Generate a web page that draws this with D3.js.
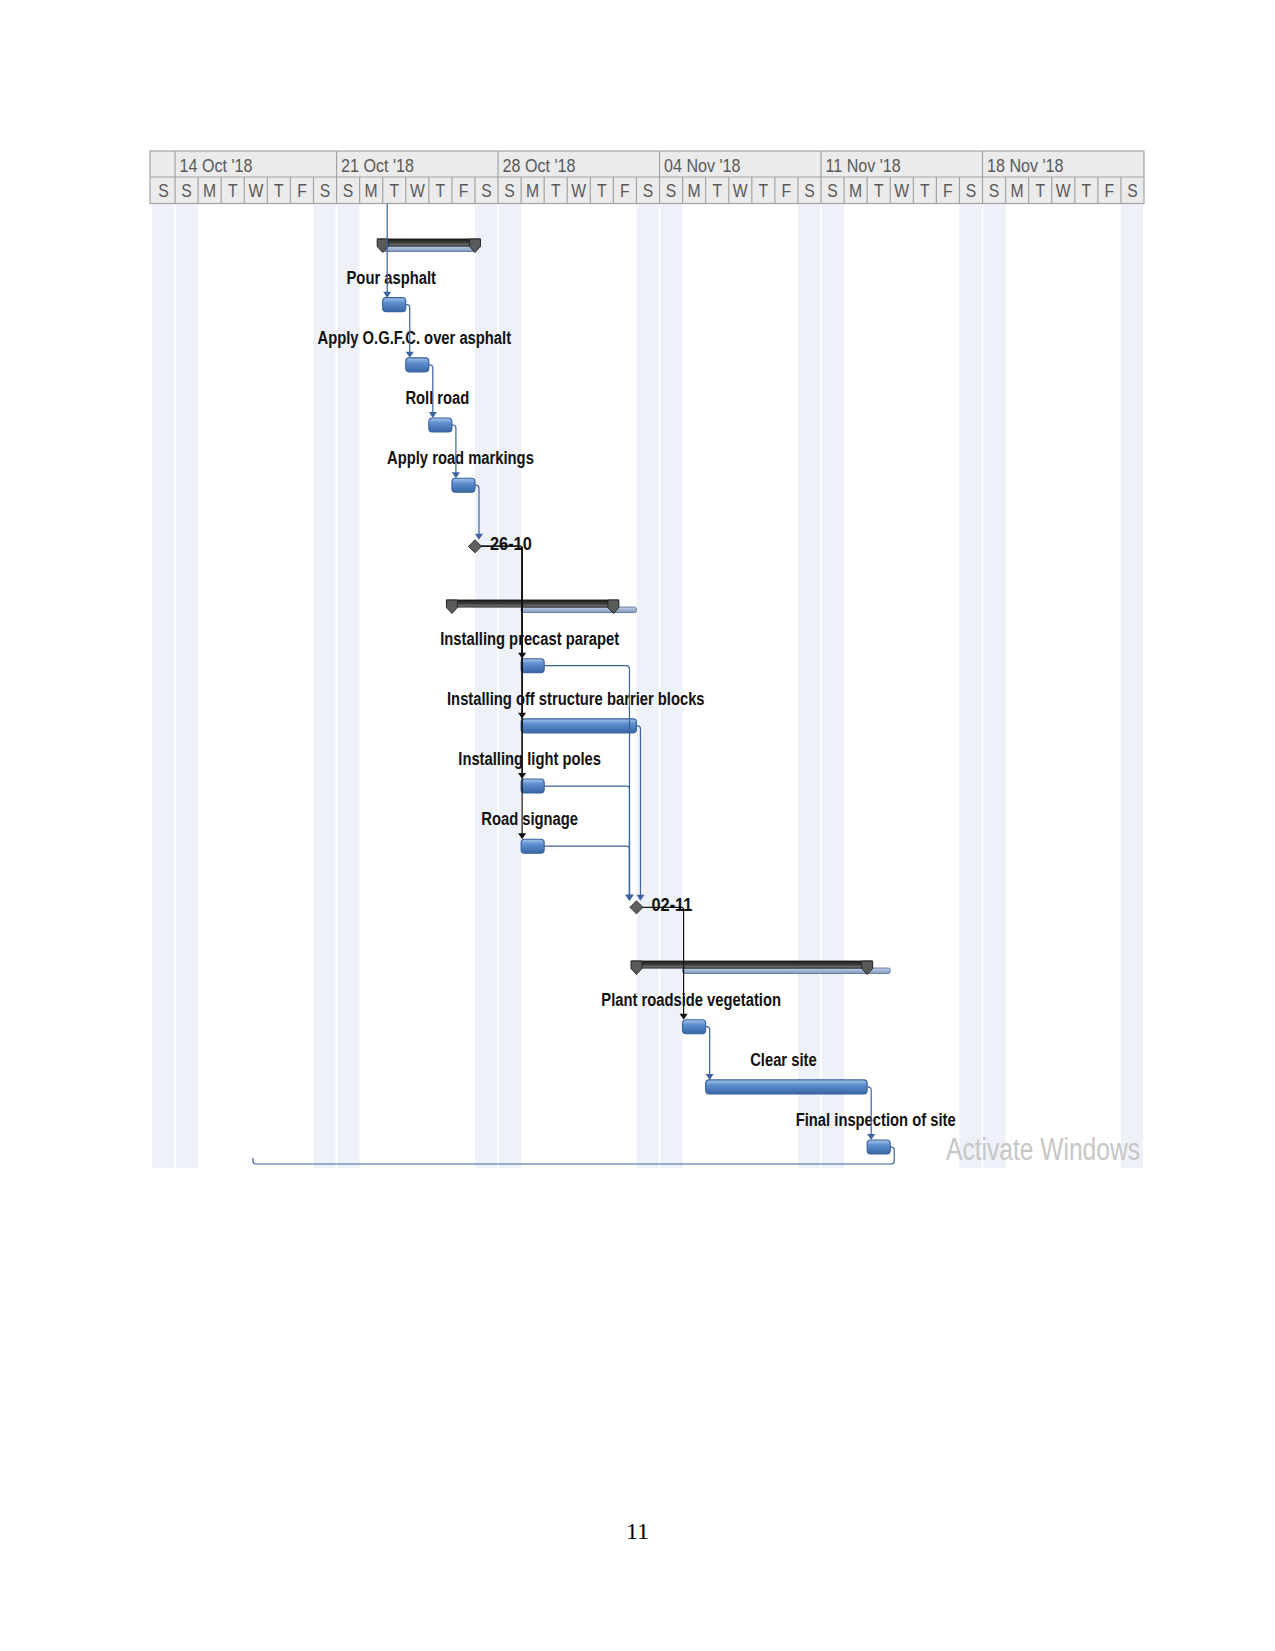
<!DOCTYPE html>
<html><head><meta charset="utf-8">
<script src="https://cdn.jsdelivr.net/npm/d3@7"></script>
<style>
html,body{margin:0;padding:0;background:#fff;}
svg{display:block;}
</style></head>
<body>
<svg id="chart" width="1275" height="1651"></svg>
<script>
// ---------- data ----------
const weekLabels = ["14 Oct '18","21 Oct '18","28 Oct '18","04 Nov '18","11 Nov '18","18 Nov '18"];
const dayLetters = ["S","M","T","W","T","F","S"]; // Sunday..Saturday
const timeStart = "2018-10-13";
const timeEnd = "2018-11-25";

const taskNames = ["", "Pour asphalt", "Apply O.G.F.C. over asphalt", "Roll road", "Apply road markings", "26-10",
  "", "Installing precast parapet", "Installing off structure barrier blocks", "Installing light poles", "Road signage", "02-11",
  "", "Plant roadside vegetation", "Clear site", "Final inspection of site"];
const taskTypes = ["summary","task","task","task","task","milestone",
  "summary","task","task","task","task","milestone",
  "summary","task","task","task"];
const taskStarts = ["2018-10-23","2018-10-23","2018-10-24","2018-10-25","2018-10-26","2018-10-27",
  "2018-10-26","2018-10-29","2018-10-29","2018-10-29","2018-10-29","2018-11-03",
  "2018-11-03","2018-11-05","2018-11-06","2018-11-13"];
const taskEnds = ["2018-10-27","2018-10-24","2018-10-25","2018-10-26","2018-10-27","2018-10-27",
  "2018-11-02","2018-10-30","2018-11-03","2018-10-30","2018-10-30","2018-11-03",
  "2018-11-13","2018-11-06","2018-11-13","2018-11-14"];
// rolled-up bars under the summary rows (summary row index -> range)
const rollupRows = [0, 6, 12];
const rollupStarts = ["2018-10-23","2018-10-29","2018-11-05"];
const rollupEnds = ["2018-10-27","2018-11-03","2018-11-14"];
// dependency links (-1 = task outside the visible area)
const linkFrom = [-1, 1, 2, 3, 4, 5, 5, 5, 5, 7, 8, 9, 10, 11, 13, 14, 15];
const linkTo   = [ 1, 2, 3, 4, 5, 7, 8, 9, 10, 11, 11, 11, 11, 13, 14, 15, -1];
const pageNumber = "11";
const watermark = "Activate Windows";

// ---------- setup ----------
const parse = d3.utcParse("%Y-%m-%d");
const svg = d3.select("#chart");
svg.append("rect").attr("width",1275).attr("height",1651).attr("fill","#fff");

const t0 = parse(timeStart), t1 = parse(timeEnd);
const x = d3.scaleUtc().domain([t0, t1]).range([152, 1144]);
const y = d3.scalePoint().domain(d3.range(taskNames.length)).range([244.5, 244.5 + 15*60.17]);

const headerTop = 151, headerMid = 177, headerBot = 203.5, shadeBot = 1168;
const baseFont = "'Liberation Sans',Arial,sans-serif";
function narrow(factor) {
  return sel => sel.each(function() {
    const w = this.getComputedTextLength();
    d3.select(this).attr("textLength", w * factor).attr("lengthAdjust", "spacingAndGlyphs");
  });
}

const defs = svg.append("defs");
const gBlue = defs.append("linearGradient").attr("id","blueGrad").attr("x1",0).attr("y1",0).attr("x2",0).attr("y2",1);
gBlue.append("stop").attr("offset",0).attr("stop-color","#a9c6ea");
gBlue.append("stop").attr("offset",0.35).attr("stop-color","#5e8fcf");
gBlue.append("stop").attr("offset",1).attr("stop-color","#3a66a5");
const gDark = defs.append("linearGradient").attr("id","darkGrad").attr("x1",0).attr("y1",0).attr("x2",0).attr("y2",1);
gDark.append("stop").attr("offset",0).attr("stop-color","#1e1e1e");
gDark.append("stop").attr("offset",0.55).attr("stop-color","#3f3f3f");
gDark.append("stop").attr("offset",1).attr("stop-color","#8a8a8a");
const gRoll = defs.append("linearGradient").attr("id","rollGrad").attr("x1",0).attr("y1",0).attr("x2",0).attr("y2",1);
gRoll.append("stop").attr("offset",0).attr("stop-color","#c4d3e6");
gRoll.append("stop").attr("offset",1).attr("stop-color","#7e98bc");

const days = d3.utcDay.range(t0, t1);

// ---------- weekend shading ----------
svg.append("g").selectAll("rect")
  .data(days.filter(d => d.getUTCDay() === 0 || d.getUTCDay() === 6))
  .join("rect")
  .attr("x", d => d.getUTCDay() === 6 ? x(d) : x(d) + 1)
  .attr("width", d => (x(d3.utcDay.offset(d,1)) - x(d)) - 1)
  .attr("y", headerBot)
  .attr("height", shadeBot - headerBot)
  .attr("fill", "#eef1f7");

// ---------- timescale header ----------
const hdr = svg.append("g");
hdr.append("rect").attr("x",150).attr("y",headerTop).attr("width",1144-150).attr("height",headerBot-headerTop)
  .attr("fill","#ebebeb").attr("stroke","#a3a3a3").attr("stroke-width",1.2);
hdr.append("line").attr("x1",150).attr("x2",1144).attr("y1",headerMid).attr("y2",headerMid)
  .attr("stroke","#a3a3a3").attr("stroke-width",1.2);
hdr.selectAll("line.day").data(days.slice(1)).join("line").attr("class","day")
  .attr("x1", d => x(d)).attr("x2", d => x(d))
  .attr("y1", headerMid).attr("y2", headerBot)
  .attr("stroke","#a3a3a3").attr("stroke-width",1.2);
const sundays = d3.utcSunday.range(t0, t1);
hdr.selectAll("line.week").data(sundays).join("line").attr("class","week")
  .attr("x1", d => x(d)).attr("x2", d => x(d))
  .attr("y1", headerTop).attr("y2", headerMid)
  .attr("stroke","#a3a3a3").attr("stroke-width",1.2);
hdr.selectAll("text.week").data(sundays).join("text").attr("class","week")
  .attr("x", d => x(d) + 4.5).attr("y", 171.5)
  .attr("font-family", baseFont).attr("font-size", 18.5).attr("fill","#595959")
  .text((d,i) => weekLabels[i])
  .call(narrow(0.87));
hdr.selectAll("text.day").data(days).join("text").attr("class","day")
  .attr("x", d => (x(d) + x(d3.utcDay.offset(d,1)))/2).attr("y", 197)
  .attr("text-anchor","middle")
  .attr("font-family", baseFont).attr("font-size", 18.5).attr("fill","#595959")
  .text(d => dayLetters[d.getUTCDay()])
  .call(narrow(0.85));

// ---------- bars ----------
const rows = taskNames.map((n,i) => ({i, name:n, type:taskTypes[i], s:parse(taskStarts[i]), e:parse(taskEnds[i])}));
const bars = svg.append("g");

// summary rows
rollupRows.forEach((r, k) => {
  const Y = y(r);
  const rs = x(parse(rollupStarts[k])), re = x(parse(rollupEnds[k]));
  bars.append("rect").attr("x", rs).attr("y", Y + 1.5).attr("width", re - rs).attr("height", 5.5).attr("rx", 2)
    .attr("fill","url(#rollGrad)").attr("stroke","#5b7599").attr("stroke-width",0.9);
  const row = rows[r];
  const xs = x(row.s), xe = x(row.e);
  bars.append("rect").attr("x", xs - 5).attr("y", Y - 5.5).attr("width", xe - xs + 10).attr("height", 7)
    .attr("fill","url(#darkGrad)").attr("stroke","#111").attr("stroke-width",0.9);
  [xs, xe].forEach(cx => {
    bars.append("path")
      .attr("d", `M${cx-5.5},${Y-5.5} L${cx+5.5},${Y-5.5} L${cx+5.5},${Y+2} L${cx},${Y+8} L${cx-5.5},${Y+2} Z`)
      .attr("fill","#5a5a5a").attr("stroke","#222").attr("stroke-width",0.9);
  });
});

// normal tasks
bars.selectAll("rect.task").data(rows.filter(r => r.type === "task")).join("rect").attr("class","task")
  .attr("x", d => x(d.s)).attr("width", d => x(d.e) - x(d.s))
  .attr("y", d => y(d.i) - 7).attr("height", 14).attr("rx", 3.5)
  .attr("fill","url(#blueGrad)").attr("stroke","#35609c").attr("stroke-width",1.1);

// milestones
bars.selectAll("path.ms").data(rows.filter(r => r.type === "milestone")).join("path").attr("class","ms")
  .attr("d", d => { const cx = x(d.s), cy = y(d.i) + 1, h = 6.5;
    return `M${cx},${cy-h} L${cx+h},${cy} L${cx},${cy+h} L${cx-h},${cy} Z`; })
  .attr("fill","#606060").attr("stroke","#333").attr("stroke-width",1);

// ---------- labels ----------
const labels = svg.append("g").attr("font-family", baseFont).attr("font-weight","bold").attr("font-size",18).attr("fill","#111");
labels.selectAll("text.tl").data(rows.filter(r => r.type === "task")).join("text").attr("class","tl")
  .attr("x", d => (x(d.s) + x(d.e))/2 - 3).attr("y", d => y(d.i) - 21)
  .attr("text-anchor","middle").text(d => d.name)
  .call(narrow(0.82));
labels.selectAll("text.ml").data(rows.filter(r => r.type === "milestone")).join("text").attr("class","ml")
  .attr("x", d => x(d.s) + 15).attr("y", d => y(d.i) + 4.5)
  .attr("font-size", 19)
  .text(d => d.name)
  .call(narrow(0.86));

// ---------- links ----------
const links = svg.append("g").attr("fill","none");
function rounded(points, r) {
  const p = d3.path();
  p.moveTo(points[0][0], points[0][1]);
  for (let k = 1; k < points.length - 1; k++) p.arcTo(points[k][0], points[k][1], points[k+1][0], points[k+1][1], r);
  const last = points[points.length-1];
  p.lineTo(last[0], last[1]);
  return p.toString();
}
function arrow(ax, ay, color) {
  links.append("path").attr("d", `M${ax},${ay} L${ax-4},${ay-6} L${ax+4},${ay-6} Z`).attr("fill", color);
}
const blue = "#3d62a0", black = "#111";
linkFrom.forEach((f, k) => {
  const t = linkTo[k];
  if (f === -1) {
    const tr = rows[t]; const ax = x(tr.s) + 4.5, ay = y(t) - 7;
    links.append("path").attr("d", rounded([[ax, headerBot], [ax, ay - 5]], 3)).attr("stroke", blue).attr("stroke-width",1.2);
    arrow(ax, ay, blue); return;
  }
  const fr = rows[f];
  if (t === -1) {
    const xe = x(fr.e), Y = y(f);
    links.append("path").attr("d", rounded([[xe, Y], [xe+4, Y], [xe+4, 1164], [253, 1164], [253, 1158]], 3))
      .attr("stroke", blue).attr("stroke-width",1.2);
    return;
  }
  const tr = rows[t];
  if (fr.type === "milestone") {
    const xm = x(fr.s), Y = y(f) + 1; const ax = x(tr.s) + 1, ay = y(t) - 7;
    links.append("path").attr("d", rounded([[xm + 6, Y], [ax, Y], [ax, ay - 5]], 2)).attr("stroke", black).attr("stroke-width",1.2);
    arrow(ax, ay, black); return;
  }
  const xe = x(fr.e), Y = y(f);
  let ax, ay;
  if (tr.type === "milestone") {
    const xm = x(tr.s);
    ax = (xe < xm - 7) ? xm - 7 : xe + 4;
    ay = y(t) + 1 - 6.5;
  } else {
    ax = xe + 4; ay = y(t) - 7;
  }
  links.append("path").attr("d", rounded([[xe, Y], [ax, Y], [ax, ay - 5]], 3)).attr("stroke", blue).attr("stroke-width",1.2);
  arrow(ax, ay, blue);
});

// ---------- watermark & page number ----------
svg.append("text").attr("x", 946).attr("y", 1160).attr("font-family", baseFont).attr("font-size", 31)
  .attr("fill","#c6c6c6").attr("textLength", 194).attr("lengthAdjust","spacingAndGlyphs").text(watermark);
svg.append("text").attr("x", 637.5).attr("y", 1539).attr("text-anchor","middle")
  .attr("font-family","'Liberation Serif','Times New Roman',serif").attr("font-size", 24).attr("fill","#000")
  .text(pageNumber);
</script>
</body></html>
